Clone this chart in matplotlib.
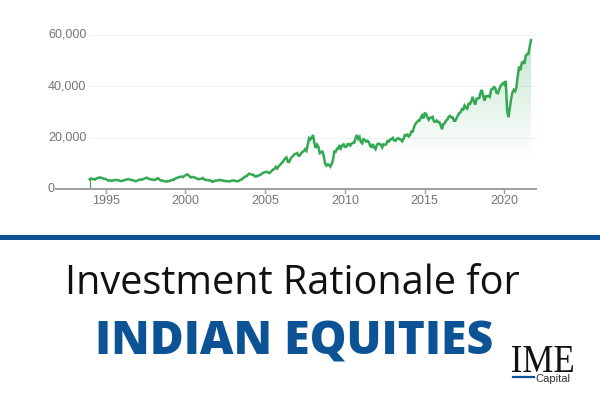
import numpy as np
import matplotlib
matplotlib.use("Agg")
import matplotlib.pyplot as plt
from matplotlib.textpath import TextPath
from matplotlib.font_manager import FontProperties
from matplotlib.patches import PathPatch
from matplotlib.transforms import Affine2D, blended_transform_factory

# monthly Sensex levels, Jan 1994 .. Sep 2021
sensex = {
    1994: [3800, 4100, 3800, 3900, 3700, 4100, 4300, 4400, 4500, 4300, 4100, 3950],
    1995: [3900, 3500, 3300, 3400, 3200, 3300, 3400, 3500, 3500, 3500, 3300, 3100],
    1996: [3100, 3300, 3400, 3600, 3700, 3900, 3700, 3500, 3500, 3300, 3100, 3100],
    1997: [3300, 3600, 3700, 3600, 3800, 4000, 4300, 4400, 4000, 4000, 3700, 3600],
    1998: [3700, 3500, 3800, 4200, 4000, 3400, 3300, 3200, 3100, 2900, 2900, 3100],
    1999: [3100, 3300, 3600, 3500, 4000, 4200, 4400, 4600, 4800, 4800, 4600, 5000],
    2000: [5300, 5700, 5500, 5000, 4500, 4700, 4600, 4400, 4300, 3900, 3800, 3950],
    2001: [4000, 4300, 3800, 3500, 3600, 3400, 3400, 3300, 2800, 2900, 3200, 3250],
    2002: [3300, 3500, 3500, 3400, 3200, 3300, 3000, 3100, 3000, 2950, 3100, 3300],
    2003: [3300, 3250, 3100, 3000, 3100, 3500, 3600, 4200, 4400, 4900, 5000, 5600],
    2004: [6000, 5700, 5600, 5600, 5000, 4800, 5200, 5200, 5500, 5700, 6200, 6400],
    2005: [6600, 6700, 6500, 6200, 6600, 7100, 7600, 7800, 8600, 8000, 8800, 9300],
    2006: [9900, 10400, 11200, 11900, 12300, 10600, 10500, 11700, 12400, 12900, 13600, 13700],
    2007: [14000, 13000, 13000, 13900, 14500, 14700, 15500, 14900, 17300, 19800, 19300, 20000],
    2008: [21000, 17800, 16000, 17300, 16500, 14000, 14400, 14600, 13000, 10000, 9100, 9600],
    2009: [9400, 8700, 9700, 11400, 14600, 14500, 15700, 15700, 17100, 15900, 17000, 17400],
    2010: [16400, 16400, 17500, 17500, 16900, 17700, 18000, 18000, 20000, 21000, 19500, 20300],
    2011: [18300, 17800, 19400, 19100, 18500, 18800, 18200, 16700, 16400, 17500, 16100, 15500],
    2012: [17200, 17700, 17400, 17300, 16200, 17400, 17200, 17400, 18700, 18500, 19300, 19400],
    2013: [19900, 18900, 18800, 19500, 19800, 19400, 19300, 18600, 19400, 21000, 20800, 21200],
    2014: [20500, 21100, 22400, 22400, 24200, 25400, 25900, 26600, 26600, 27800, 28700, 27500],
    2015: [29500, 29300, 27900, 27000, 27800, 27800, 28100, 26300, 26200, 26700, 26100, 26100],
    2016: [24900, 23300, 25300, 25600, 26700, 27000, 28100, 28500, 27900, 27900, 26600, 26600],
    2017: [27700, 28700, 29600, 29900, 31100, 30900, 32500, 31700, 31300, 33200, 33100, 34100],
    2018: [35900, 34200, 32900, 35200, 35300, 35400, 37600, 38600, 36200, 34400, 36200, 36100],
    2019: [36300, 35900, 38700, 39000, 39700, 39400, 37500, 37300, 38700, 40100, 40800, 41300],
    2020: [40700, 42100, 30500, 28000, 31500, 35000, 37600, 38600, 38100, 39600, 44100, 47700],
    2021: [46300, 49100, 49500, 48800, 51900, 52500, 52600, 55500, 58000],
}
y_ticks = [0, 20000, 40000, 60000]
x_ticks = [1995, 2000, 2005, 2010, 2015, 2020]

values = np.array([v for yr in sorted(sensex) for v in sensex[yr]], dtype=float)
years = np.array([yr + m / 12 for yr in sorted(sensex) for m in range(len(sensex[yr]))])

GREEN = "#34a853"
BLUE = "#0b5394"
GRAY = "#757575"

fig = plt.figure(figsize=(6, 4), dpi=100)
W, H = 600, 400
ax = fig.add_axes([55 / W, 1 - 189 / H, 482 / W, (189 - 35) / H])
ax.set_xlim(1991.82, 2022.04)
ax.set_ylim(0, 60000)
ax.axis("off")

# faint gridlines
ax.hlines(y_ticks[1:], 1993.95, 2022.04, color="#f2f2f2", lw=0.8, zorder=0)
# x axis line
ax.plot([1991.82, 2022.04], [0, 0], color="#9e9e9e", lw=1.4, zorder=3, clip_on=False,
        solid_capstyle="butt")
for t in x_ticks:
    ax.plot([t, t], [0, -1500], color="#9e9e9e", lw=1, clip_on=False)
    ax.text(t, -2400, str(t), ha="center", va="top", fontsize=9, color=GRAY,
            family="Liberation Sans")

trans = blended_transform_factory(fig.transFigure, ax.transData)
for t in y_ticks:
    ax.text(48 / W, t, f"{t:,}", transform=trans, ha="left", va="center",
            fontsize=9, color=GRAY, family="Liberation Sans")

# gradient area under the line
poly = ax.fill_between(years, values, 0, facecolor="none", edgecolor="none")
grad_v = np.linspace(0, 58000, 256)
alpha = np.clip((grad_v - 12000) / (58000 - 12000), 0, 1) * 0.28
rgba = np.zeros((256, 1, 4))
rgba[..., 0] = 52 / 255
rgba[..., 1] = 168 / 255
rgba[..., 2] = 83 / 255
rgba[:, 0, 3] = alpha
im = ax.imshow(rgba, extent=[years[0], years[-1], 0, 58000], origin="lower",
               aspect="auto", zorder=1)
im.set_clip_path(poly.get_paths()[0], transform=ax.transData)

ax.vlines(years[0], 0, values[0], color=GREEN, lw=0.8, zorder=2)
ax.plot(years, values, color=GREEN, lw=1.8, zorder=2, solid_joinstyle="miter")

# blue rule
fig.add_artist(plt.Line2D([0, 1], [1 - 236.7 / H] * 2, color=BLUE, lw=3.6,
                          transform=fig.transFigure))

fig.text(292 / W, 1 - 293.5 / H, "Investment Rationale for", ha="center",
         va="baseline", fontsize=28.5, color="#111111", family="Open Sans",
         fontweight="normal")
fig.text(294.5 / W, 1 - 355 / H, "INDIAN EQUITIES", ha="center", va="baseline",
         fontsize=33.3, color=BLUE, family="Open Sans", fontweight="heavy")

# IME Capital logo
tp = TextPath((0, 0), "IME", size=1, prop=FontProperties(family="Liberation Serif"))
ext = tp.get_extents()
sx = 61 / ext.width
sy = 26 / ext.height
tr = Affine2D().translate(-ext.x0, 0).scale(sx / W, sy / H).translate(512 / W, 1 - 372 / H)
fig.add_artist(PathPatch(tp, transform=tr + fig.transFigure, facecolor="#111111",
                         edgecolor="none"))
fig.add_artist(plt.Line2D([513 / W, 534 / W], [1 - 376.7 / H] * 2, color=BLUE, lw=1.6,
                          transform=fig.transFigure))
fig.text(535 / W, 1 - 381.5 / H, "Capital", ha="left", va="baseline", fontsize=8,
         color="#333333", family="Liberation Sans")

fig.savefig("out.png", dpi=100, facecolor="white")
